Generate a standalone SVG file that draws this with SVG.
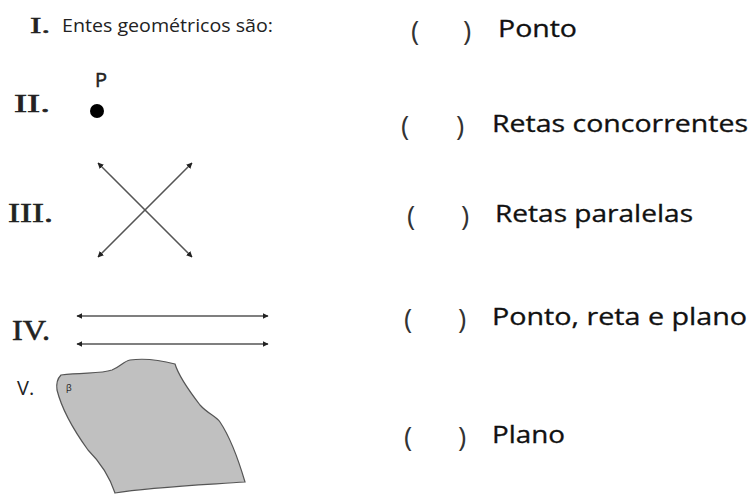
<svg xmlns="http://www.w3.org/2000/svg" width="751" height="496" viewBox="0 0 751 496">
<style>
.rom{font-family:"Liberation Serif",serif;fill:#222;stroke:#222;stroke-width:0.6}
.sans{font-family:"Open Sans","Noto Sans",sans-serif;fill:#222}
.par{font-family:"Open Sans","Noto Sans",sans-serif;fill:#333;font-size:28px}
.opt{font-family:"Open Sans","Noto Sans",sans-serif;fill:#111;font-size:23px;stroke:#111;stroke-width:0.3}
.ln{stroke:#555;stroke-width:1.5;fill:none}
</style>
<defs>
<marker id="ah" viewBox="0 0 10 10" refX="9" refY="5" markerWidth="6" markerHeight="6" markerUnits="userSpaceOnUse" orient="auto-start-reverse">
<path d="M0,0 L10,5 L0,10 z" fill="#222"/>
</marker>
</defs>
<rect width="751" height="496" fill="#fff"/>

<g id="item-I">
<text class="rom" x="30" y="33" font-size="23" textLength="20" lengthAdjust="spacingAndGlyphs">I.</text>
<text class="sans" x="62" y="32" font-size="19" textLength="211" lengthAdjust="spacingAndGlyphs">Entes geométricos são:</text>
</g>

<g id="item-II">
<text class="rom" x="14" y="112" font-size="25" textLength="36" lengthAdjust="spacingAndGlyphs">II.</text>
<text class="sans" x="95" y="87" font-size="20" stroke="#222" stroke-width="0.5">P</text>
<circle cx="97" cy="111" r="7" fill="#000"/>
</g>

<g id="item-III">
<text class="rom" x="8" y="222" font-size="28" textLength="45" lengthAdjust="spacingAndGlyphs">III.</text>
<line class="ln" x1="98" y1="163" x2="192" y2="257" marker-start="url(#ah)" marker-end="url(#ah)"/>
<line class="ln" x1="192" y1="163" x2="98" y2="257" marker-start="url(#ah)" marker-end="url(#ah)"/>
</g>

<g id="item-IV">
<text class="rom" x="12" y="340" font-size="30" textLength="38" lengthAdjust="spacingAndGlyphs">IV.</text>
<line class="ln" x1="77" y1="316" x2="268" y2="316" stroke="#333" marker-start="url(#ah)" marker-end="url(#ah)"/>
<line class="ln" x1="77" y1="344" x2="268" y2="344" stroke="#333" marker-start="url(#ah)" marker-end="url(#ah)"/>
</g>

<g id="item-V">
<text class="sans" x="17" y="395" font-size="20">V.</text>
<path d="M61,375 C85,372 100,374 112,370 C120,367 124,361 130,360 C145,358 160,360 175,364 C178,374 190,392 200,405 C208,414 216,416 220,422 C232,440 240,465 245,482 C200,485 150,487 115,493 C110,478 100,462 88,450 C75,432 62,410 57,390 C56,383 58,378 61,375 Z" fill="#c0c0c0" stroke="#555" stroke-width="1.2"/>
<text class="sans" x="66" y="391" font-size="9">β</text>
</g>

<g id="opt-1">
<text class="par" x="411" y="41">(</text>
<text class="par" x="463" y="41">)</text>
<text class="opt" x="498" y="37" textLength="79" lengthAdjust="spacingAndGlyphs">Ponto</text>
</g>
<g id="opt-2">
<text class="par" x="401" y="136">(</text>
<text class="par" x="456" y="136">)</text>
<text class="opt" x="492" y="132" textLength="256" lengthAdjust="spacingAndGlyphs">Retas concorrentes</text>
</g>
<g id="opt-3">
<text class="par" x="407" y="226">(</text>
<text class="par" x="461" y="226">)</text>
<text class="opt" x="495" y="222" textLength="198" lengthAdjust="spacingAndGlyphs">Retas paralelas</text>
</g>
<g id="opt-4">
<text class="par" x="404" y="329">(</text>
<text class="par" x="458" y="329">)</text>
<text class="opt" x="492" y="325" textLength="255" lengthAdjust="spacingAndGlyphs">Ponto, reta e plano</text>
</g>
<g id="opt-5">
<text class="par" x="404" y="447">(</text>
<text class="par" x="458" y="447">)</text>
<text class="opt" x="492" y="443" textLength="73" lengthAdjust="spacingAndGlyphs">Plano</text>
</g>
</svg>
